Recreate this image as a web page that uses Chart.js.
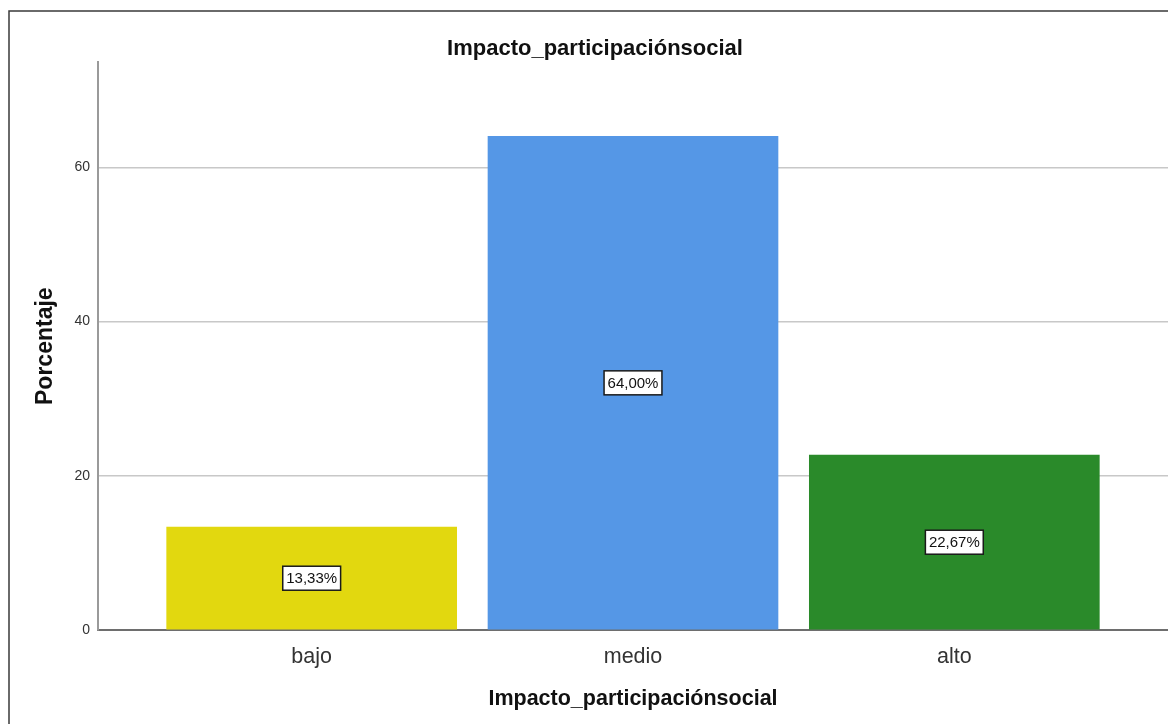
<!DOCTYPE html>
<html>
<head>
<meta charset="utf-8">
<script src="https://cdn.jsdelivr.net/npm/chart.js@4.4.1/dist/chart.umd.min.js"></script>
<style>
  html, body { margin: 0; padding: 0; background: #ffffff; }
  #wrap { width: 1168px; height: 724px; position: relative; }
</style>
</head>
<body>
<div id="wrap"><canvas id="chart" width="1168" height="724"></canvas></div>
<script>
// Categories and percentages
const categories = ['bajo', 'medio', 'alto'];
const percentages = [13.33, 64.00, 22.67];
const barColors = ['#E2D80F', '#5597E6', '#2A8A2A'];
const yTicks = [0, 20, 40, 60];
const chartTitle = 'Impacto_participaciónsocial';
const xTitle = 'Impacto_participaciónsocial';
const yTitle = 'Porcentaje';

const fontFamily = '"Liberation Sans", Arial, Helvetica, sans-serif';

// Points placed at 1, 2, 3 on a numeric x scale so the category spacing can be set freely
const points = percentages.map((v, i) => ({ x: i + 1, y: v }));

function formatPct(v) {
  return v.toFixed(2).replace('.', ',') + '%';
}

// Outer frame line on the left and top edges
const framePlugin = {
  id: 'frame',
  beforeDraw(chart) {
    const ctx = chart.ctx;
    ctx.save();
    ctx.fillStyle = '#ffffff';
    ctx.fillRect(0, 0, chart.width, chart.height);
    ctx.strokeStyle = '#3a3a3a';
    ctx.lineWidth = 1.5;
    ctx.beginPath();
    ctx.moveTo(9, chart.height);
    ctx.lineTo(9, 11);
    ctx.lineTo(chart.width, 11);
    ctx.stroke();
    ctx.restore();
  }
};

// Boxed value labels at the middle of each bar
const valueBoxPlugin = {
  id: 'valueBoxes',
  afterDatasetsDraw(chart) {
    const ctx = chart.ctx;
    const meta = chart.getDatasetMeta(0);
    ctx.save();
    ctx.font = '15px ' + fontFamily;
    ctx.textAlign = 'center';
    ctx.textBaseline = 'middle';
    meta.data.forEach((bar, i) => {
      const text = formatPct(percentages[i]);
      const cx = bar.x;
      const cy = (bar.y + bar.base) / 2;
      const w = ctx.measureText(text).width + 7;
      const h = 24;
      ctx.fillStyle = '#ffffff';
      ctx.fillRect(cx - w / 2, cy - h / 2, w, h);
      ctx.strokeStyle = '#1a1a1a';
      ctx.lineWidth = 1.5;
      ctx.strokeRect(cx - w / 2, cy - h / 2, w, h);
      ctx.fillStyle = '#111111';
      ctx.fillText(text, cx, cy + 1);
    });
    ctx.restore();
  }
};

new Chart(document.getElementById('chart'), {
  type: 'bar',
  data: {
    datasets: [{
      data: points,
      backgroundColor: barColors,
      borderWidth: 0,
      barThickness: 290
    }]
  },
  plugins: [framePlugin, valueBoxPlugin],
  options: {
    responsive: false,
    animation: false,
    layout: { padding: { left: 22, right: 0, top: 0, bottom: 0 } },
    plugins: {
      legend: { display: false },
      tooltip: { enabled: false },
      title: {
        display: true,
        text: chartTitle,
        color: '#111111',
        font: { family: fontFamily, size: 22, weight: 'bold', lineHeight: 1.2 },
        padding: { top: 36, bottom: 0 }
      }
    },
    scales: {
      x: {
        type: 'linear',
        offset: false,
        min: 0.335,
        max: 3.665,
        afterBuildTicks(scale) {
          scale.ticks = categories.map((c, i) => ({ value: i + 1 }));
        },
        afterFit(scale) { scale.height = 94; },
        ticks: {
          autoSkip: false,
          maxRotation: 0,
          padding: 14,
          color: '#333333',
          font: { family: fontFamily, size: 21.5 },
          callback(value) { return categories[value - 1] || ''; }
        },
        grid: { display: false, drawTicks: false, offset: false },
        border: { display: true, color: '#6e6e6e', width: 2 },
        title: {
          display: true,
          text: xTitle,
          color: '#111111',
          font: { family: fontFamily, size: 21.5, weight: 'bold', lineHeight: 1.2 },
          padding: { top: 0, bottom: 12 }
        }
      },
      y: {
        type: 'linear',
        min: 0,
        max: 73.6,
        afterBuildTicks(scale) {
          scale.ticks = yTicks.map(v => ({ value: v }));
        },
        afterFit(scale) { scale.width = 76; },
        ticks: {
          padding: 8,
          color: '#333333',
          font: { family: fontFamily, size: 14 }
        },
        grid: {
          drawTicks: false,
          color(ctx) { return ctx.tick && ctx.tick.value === 0 ? 'rgba(0,0,0,0)' : '#c8c8c8'; },
          lineWidth: 1.5
        },
        border: { display: true, color: '#9a9a9a', width: 2 },
        title: {
          display: true,
          text: yTitle,
          color: '#111111',
          font: { family: fontFamily, size: 23, weight: 'bold', lineHeight: 1.2 },
          padding: { top: 10, bottom: 0 }
        }
      }
    }
  }
});
</script>
</body>
</html>
